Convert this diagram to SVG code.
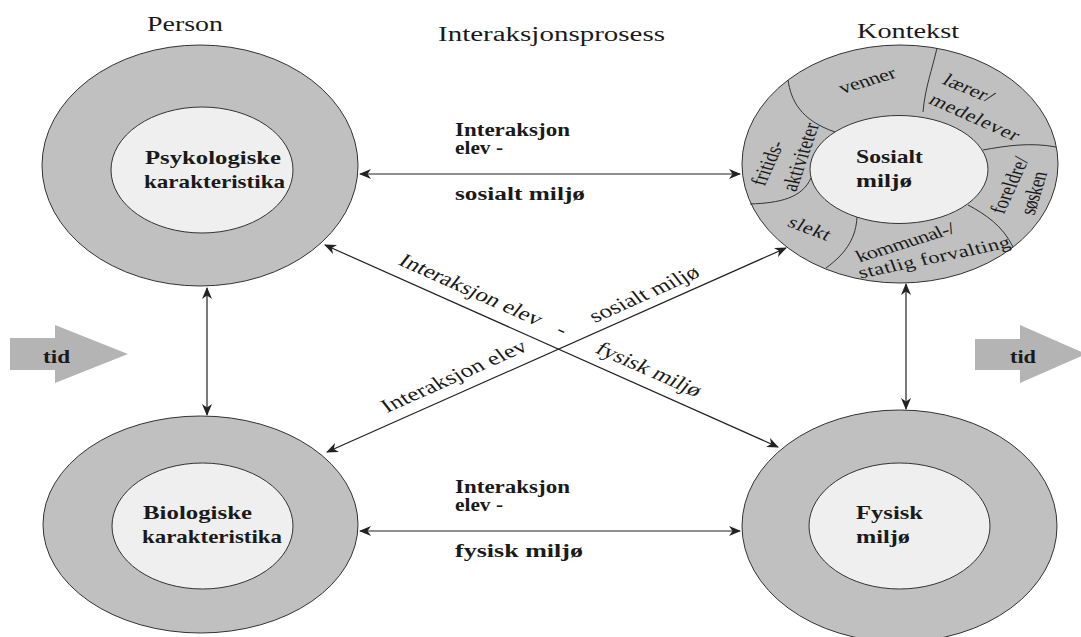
<svg xmlns="http://www.w3.org/2000/svg" width="1081" height="637" viewBox="0 0 1081 637" font-family="Liberation Serif, DejaVu Serif, serif">
  <style>
    .ring { fill: #c0c0c0; stroke: #333; stroke-width: 1; }
    .core { fill: #efefef; stroke: #333; stroke-width: 1; }
    .div  { fill: none; stroke: #333; stroke-width: 1; }
    .link { fill: none; stroke: #222; stroke-width: 1.2; marker-start: url(#head); marker-end: url(#head); }
    .blk  { fill: #b4b4b4; }
    text  { fill: #1a1a1a; }
    .hdr  { font-size: 20px; }
    .lbl  { font-size: 19px; font-weight: bold; }
    .mid  { font-size: 18px; font-weight: bold; }
    .seg  { font-size: 17px; text-anchor: middle; }
    .diag { font-size: 19px; }
  </style>
  <defs>
    <marker id="head" viewBox="0 0 12 10" refX="11" refY="5" markerWidth="12" markerHeight="10" markerUnits="userSpaceOnUse" orient="auto-start-reverse">
      <path d="M0,0 L12,5 L0,10 L3.5,5 z" fill="#222"/>
    </marker>
  </defs>

  <rect width="1081" height="637" fill="#ffffff"/>

  <!-- column headings -->
  <g id="headings">
    <text class="hdr" x="147" y="31" textLength="76" lengthAdjust="spacingAndGlyphs">Person</text>
    <text class="hdr" x="438" y="41" textLength="227" lengthAdjust="spacingAndGlyphs">Interaksjonsprosess</text>
    <text class="hdr" x="857" y="38" textLength="102" lengthAdjust="spacingAndGlyphs">Kontekst</text>
  </g>

  <!-- time arrows -->
  <g id="tid-left">
    <path class="blk" d="M10,338 H55 V325 L128,354 L55,383 V370 H10 z"/>
    <text class="mid" x="43" y="363" font-size="17" textLength="27" lengthAdjust="spacingAndGlyphs">tid</text>
  </g>
  <g id="tid-right">
    <path class="blk" d="M975,339 H1020 V325 L1086,354 L1020,383 V370 H975 z"/>
    <text class="mid" x="1010" y="363" font-size="17" textLength="26" lengthAdjust="spacingAndGlyphs">tid</text>
  </g>

  <!-- person: psychological -->
  <g id="psykologiske">
    <ellipse class="ring" cx="200" cy="165.5" rx="158" ry="120.5"/>
    <ellipse class="core" cx="202" cy="170" rx="91" ry="63"/>
    <text class="lbl" x="145" y="164" textLength="136" lengthAdjust="spacingAndGlyphs">Psykologiske</text>
    <text class="lbl" x="144" y="188" textLength="141" lengthAdjust="spacingAndGlyphs">karakteristika</text>
  </g>

  <!-- person: biological -->
  <g id="biologiske">
    <ellipse class="ring" cx="200.5" cy="524.5" rx="157.5" ry="108.5"/>
    <ellipse class="core" cx="202.5" cy="526" rx="90.5" ry="63"/>
    <text class="lbl" x="143" y="519" textLength="109" lengthAdjust="spacingAndGlyphs">Biologiske</text>
    <text class="lbl" x="142" y="543" textLength="140" lengthAdjust="spacingAndGlyphs">karakteristika</text>
  </g>

  <!-- context: social environment with its sectors -->
  <g id="sosialt">
    <ellipse class="ring" cx="900" cy="164" rx="158" ry="119"/>
    <path class="div" d="M788,80 C791,100 800,120 835,132"/>
    <path class="div" d="M937,48 C932,70 925,88 923,112"/>
    <path class="div" d="M983,150 C1005,146 1030,142 1056,147"/>
    <path class="div" d="M968,205 C985,214 1003,226 1013,247"/>
    <path class="div" d="M857,217 C856,236 848,252 826,268"/>
    <path class="div" d="M750,204 C780,203 802,198 811,178"/>
    <ellipse class="core" cx="899" cy="169.5" rx="89" ry="54"/>
    <text class="lbl" x="856" y="163" textLength="67" lengthAdjust="spacingAndGlyphs">Sosialt</text>
    <text class="lbl" x="856" y="187" textLength="56" lengthAdjust="spacingAndGlyphs">miljø</text>
    <text class="seg" transform="translate(867,80) scale(1.33,1) rotate(-22)" dy="0.35em" textLength="45">venner</text>
    <text class="seg" transform="translate(969,88) scale(1.33,1) rotate(29)" dy="0.35em" textLength="41">lærer/</text>
    <text class="seg" transform="translate(975,117) scale(1.33,1) rotate(30.6)" dy="0.35em" textLength="76">medelever</text>
    <text class="seg" transform="translate(767,163) scale(1.33,1) rotate(-71)" dy="0.35em" textLength="46">fritids-</text>
    <text class="seg" transform="translate(800,157) scale(1.33,1) rotate(-75.6)" dy="0.35em" textLength="70">aktiviteter</text>
    <text class="seg" transform="translate(1009,185) scale(1.33,1) rotate(-71)" dy="0.35em" textLength="59">foreldre/</text>
    <text class="seg" transform="translate(1033,193) scale(1.33,1) rotate(-77)" dy="0.35em" textLength="44">søsken</text>
    <text class="seg" transform="translate(810,228) scale(1.33,1) rotate(26.5)" dy="0.35em" textLength="34">slekt</text>
    <text class="seg" transform="translate(905,242) scale(1.33,1) rotate(-22.4)" dy="0.35em" textLength="79">kommunal-/</text>
    <text class="seg" transform="translate(934,257) scale(1.33,1) rotate(-15.5)" dy="0.35em" textLength="118">statlig forvalting</text>
  </g>

  <!-- context: physical environment -->
  <g id="fysisk">
    <ellipse class="ring" cx="899.5" cy="526" rx="157.5" ry="116"/>
    <ellipse class="core" cx="899.5" cy="526" rx="90.5" ry="63"/>
    <text class="lbl" x="856" y="519" textLength="67" lengthAdjust="spacingAndGlyphs">Fysisk</text>
    <text class="lbl" x="856" y="543" textLength="54" lengthAdjust="spacingAndGlyphs">miljø</text>
  </g>

  <!-- interaction connectors -->
  <g id="connectors">
    <line class="link" x1="360" y1="174" x2="740" y2="174"/>
    <line class="link" x1="360" y1="531" x2="740" y2="531"/>
    <line class="link" x1="207" y1="288" x2="207" y2="415"/>
    <line class="link" x1="906" y1="284" x2="906" y2="409"/>
    <line class="link" x1="325" y1="245" x2="778" y2="447"/>
    <line class="link" x1="786" y1="248" x2="327" y2="452"/>
  </g>

  <!-- connector labels -->
  <g id="connector-labels">
    <text class="mid" x="455" y="136" textLength="115" lengthAdjust="spacingAndGlyphs">Interaksjon</text>
    <text class="mid" x="455" y="154" textLength="48" lengthAdjust="spacingAndGlyphs">elev -</text>
    <text class="mid" x="455" y="200" textLength="130" lengthAdjust="spacingAndGlyphs">sosialt miljø</text>
    <text class="mid" x="455" y="493" textLength="115" lengthAdjust="spacingAndGlyphs">Interaksjon</text>
    <text class="mid" x="455" y="511" textLength="48" lengthAdjust="spacingAndGlyphs">elev -</text>
    <text class="mid" x="455" y="557" textLength="128" lengthAdjust="spacingAndGlyphs">fysisk miljø</text>

    <text class="diag" transform="translate(397,264) scale(1.33,1) rotate(30.6)" textLength="122">Interaksjon elev</text>
    <text class="diag" transform="translate(562,330) scale(1.33,1) rotate(30.6)" text-anchor="middle" dy="0.3em">-</text>
    <text class="diag" transform="translate(595,323) scale(1.33,1) rotate(-30.6)" textLength="93">sosialt miljø</text>
    <text class="diag" transform="translate(387,413) scale(1.33,1) rotate(-30.6)" textLength="124">Interaksjon elev</text>
    <text class="diag" transform="translate(594,352) scale(1.33,1) rotate(30.6)" textLength="89">fysisk miljø</text>
  </g>
</svg>
